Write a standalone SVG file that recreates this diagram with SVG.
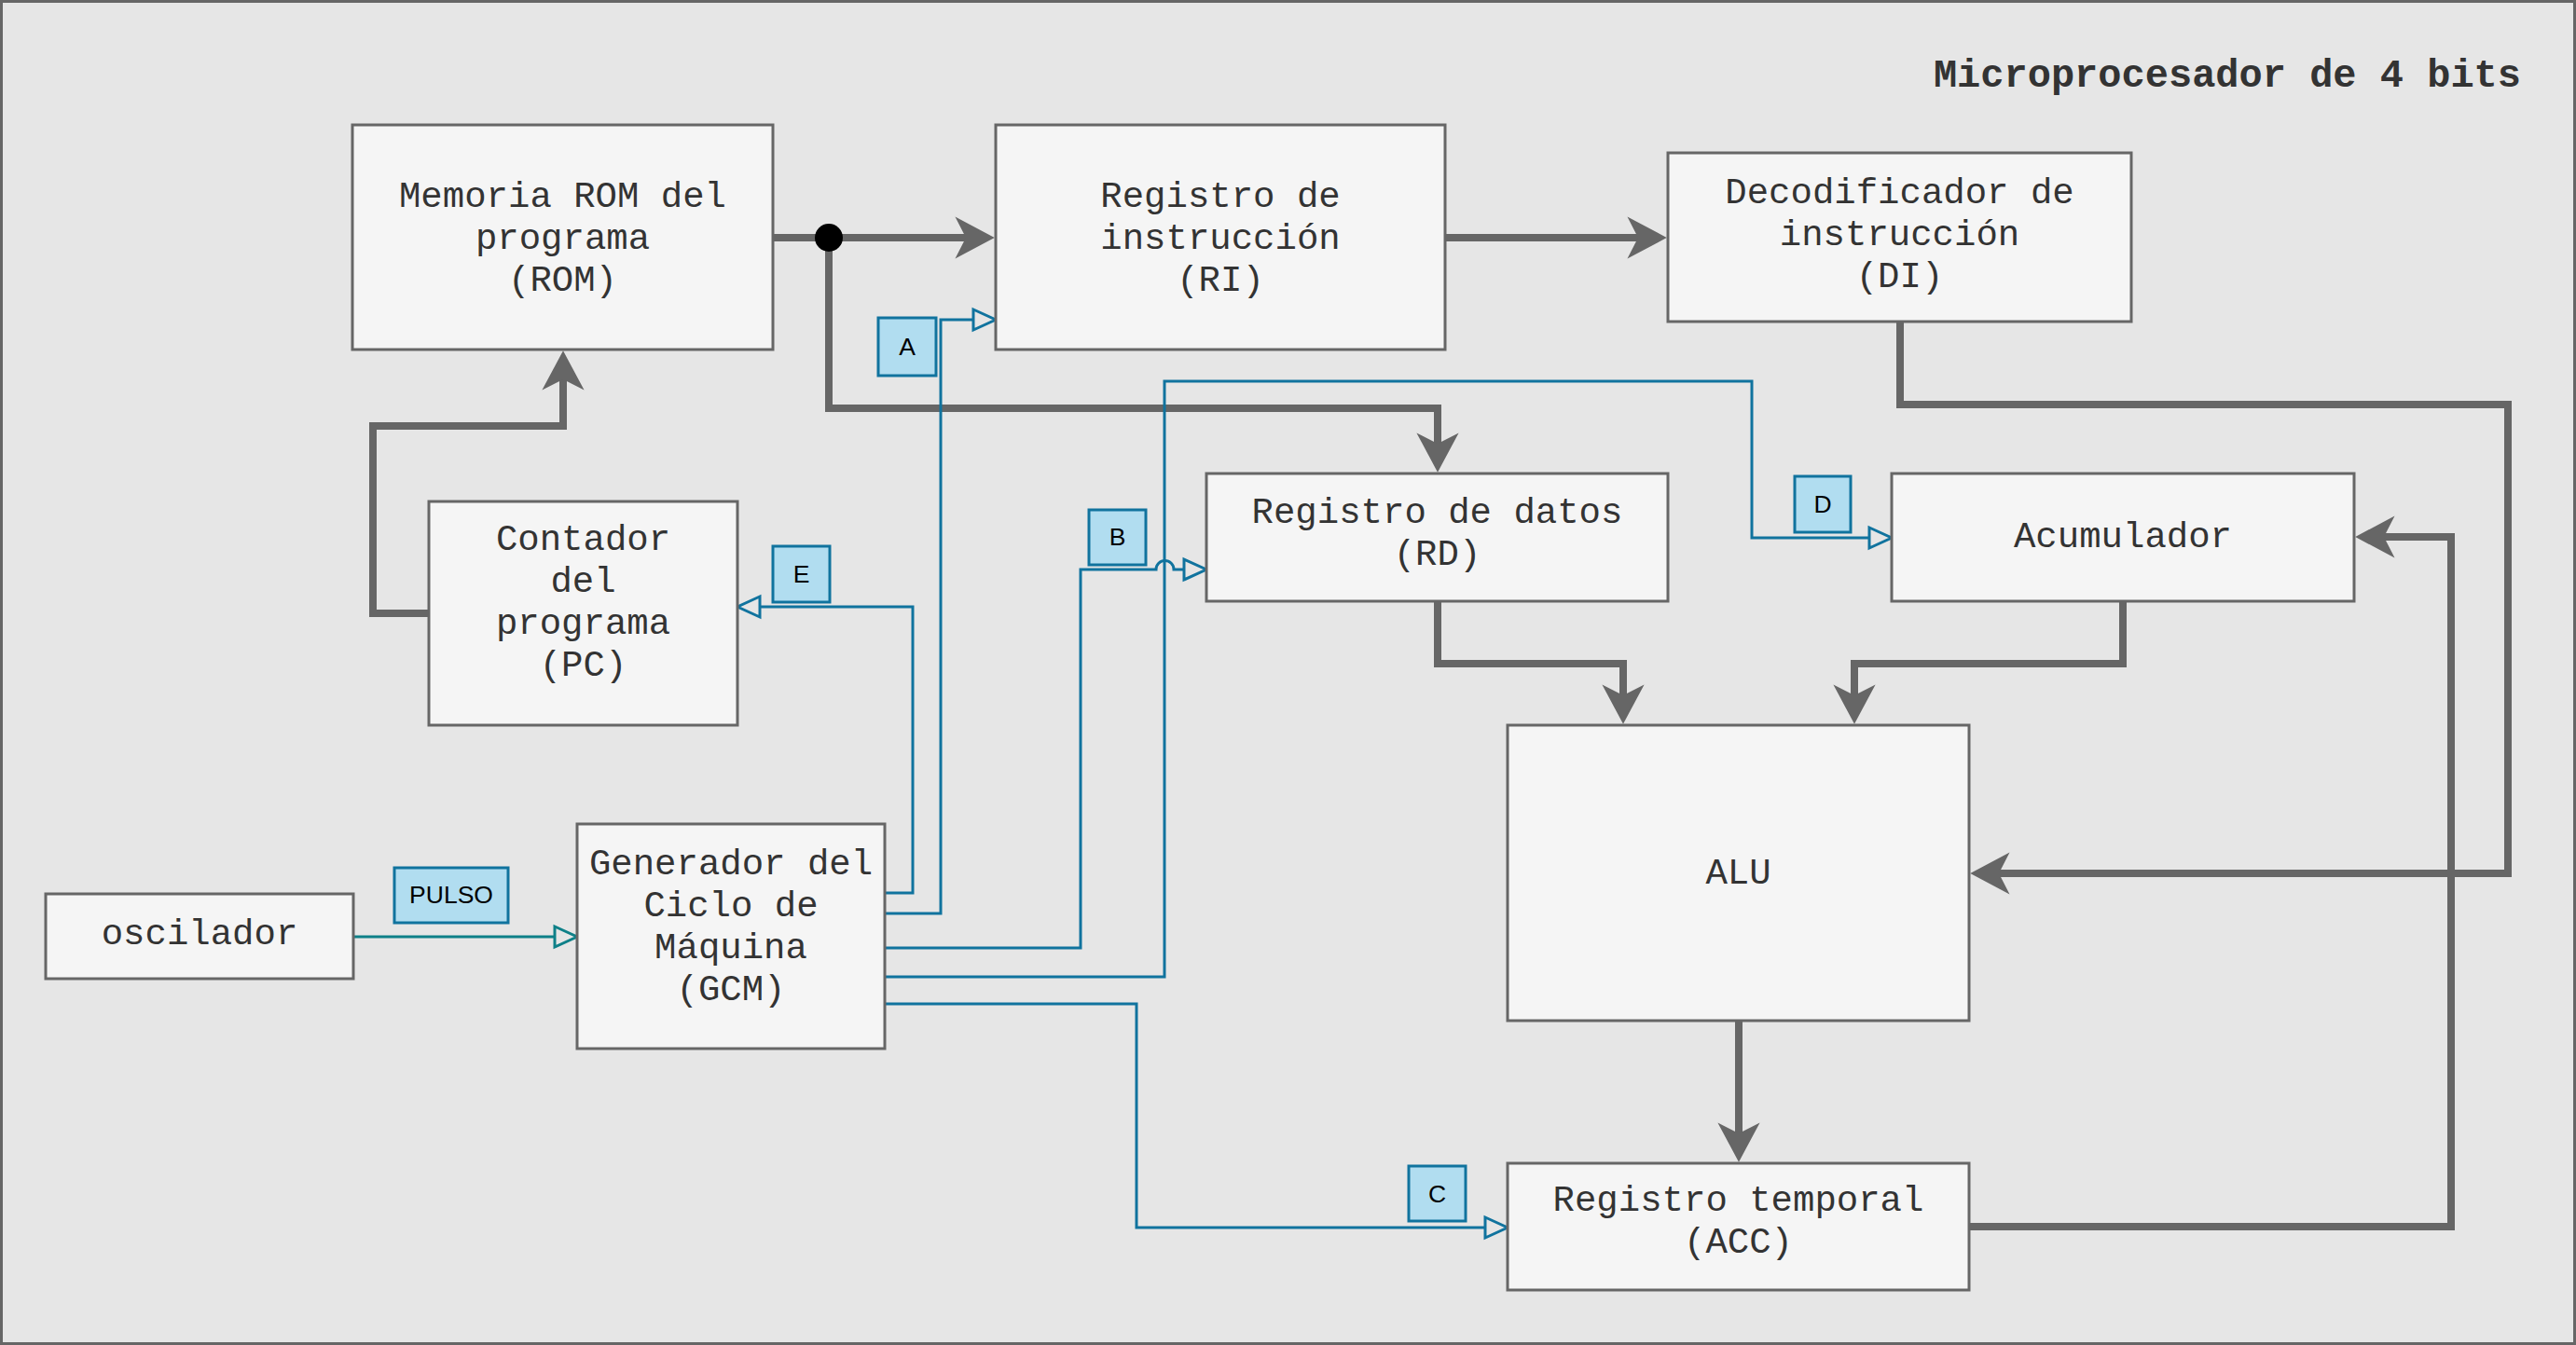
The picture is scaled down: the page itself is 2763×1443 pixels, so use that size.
<svg xmlns="http://www.w3.org/2000/svg" width="2763" height="1443" viewBox="0 0 2763 1443">
<style>
.node{fill:#F5F5F5;stroke:#666666;stroke-width:3}
.lab{fill:#B1DDF0;stroke:#10739E;stroke-width:3}
.t{font-family:"Liberation Mono","Courier New",monospace;font-size:39px;fill:#333333;text-anchor:middle}
.lt{font-family:"Liberation Sans",Arial,sans-serif;font-size:26.5px;fill:#000000;text-anchor:middle}
.bus{fill:none;stroke:#666666;stroke-width:8;marker-end:url(#big)}
.sig{fill:none;stroke:#10739E;stroke-width:3;marker-end:url(#open)}
.pul{fill:none;stroke:#0E8088;stroke-width:3;marker-end:url(#openT)}
</style>
<defs>
<marker id="big" markerUnits="userSpaceOnUse" orient="auto" refX="12" refY="0" markerWidth="50" markerHeight="50" viewBox="-2 -26 50 52" overflow="visible">
<path d="M0,-23.5 L44,0 L0,23.5 L12,0 Z" fill="#666666"/>
</marker>
<marker id="open" markerUnits="userSpaceOnUse" orient="auto" refX="0" refY="0" markerWidth="30" markerHeight="30" viewBox="-3 -14 30 28" overflow="visible">
<path d="M0,-11 L24,0 L0,11 Z" fill="#E6E6E6" stroke="#10739E" stroke-width="3"/>
</marker>
<marker id="openT" markerUnits="userSpaceOnUse" orient="auto" refX="0" refY="0" markerWidth="30" markerHeight="30" viewBox="-3 -14 30 28" overflow="visible">
<path d="M0,-11 L24,0 L0,11 Z" fill="#E6E6E6" stroke="#0E8088" stroke-width="3"/>
</marker>
</defs>
<rect x="1.5" y="1.5" width="2760" height="1440" fill="#E6E6E6" stroke="#666666" stroke-width="3"/>
<g id="title">
<text x="2704" y="93" font-family="'Liberation Mono','Courier New',monospace" font-size="42" font-weight="bold" fill="#333333" text-anchor="end">Microprocesador de 4 bits</text>
</g>
<g id="connectors">
<path class="bus" d="M829,255 H1036"/>
<path class="bus" d="M889,255 V438 H1542 V476"/>
<path class="bus" d="M1550,255 H1757"/>
<path class="bus" d="M2038,345 V434 H2690 V937 H2144"/>
<path class="bus" d="M1542,645 V712 H1741 V746"/>
<path class="bus" d="M2277,645 V712 H1989 V746"/>
<path class="bus" d="M1865,1095 V1216"/>
<path class="bus" d="M2112,1316 H2629 V576 H2557"/>
<path class="bus" d="M460,658 H400 V457 H604 V407"/>
<circle cx="889" cy="255" r="15" fill="#000000"/>
<path class="pul" d="M379,1005 H595"/>
<path class="sig" d="M949,958 H979 V651 H815"/>
<path class="sig" d="M949,980 H1009 V343 H1044"/>
<path class="sig" d="M949,1017 H1159 V611 H1240 a9.5,9.5 0 0 1 19,0 H1270"/>
<path class="sig" d="M949,1048 H1249 V409 H1879 V577 H2005"/>
<path class="sig" d="M949,1077 H1219 V1317 H1593"/>
</g>
<g id="rom"><rect class="node" x="378" y="134" width="451" height="241"/>
<text class="t" x="603.5" y="222">Memoria ROM del</text><text class="t" x="603.5" y="267">programa</text><text class="t" x="603.5" y="312">(ROM)</text></g>
<g id="ri"><rect class="node" x="1068" y="134" width="482" height="241"/>
<text class="t" x="1309" y="222">Registro de</text><text class="t" x="1309" y="267">instrucción</text><text class="t" x="1309" y="312">(RI)</text></g>
<g id="di"><rect class="node" x="1789" y="164" width="497" height="181"/>
<text class="t" x="2037.5" y="218">Decodificador de</text><text class="t" x="2037.5" y="263">instrucción</text><text class="t" x="2037.5" y="308">(DI)</text></g>
<g id="pc"><rect class="node" x="460" y="538" width="331" height="240"/>
<text class="t" x="625.5" y="590">Contador</text><text class="t" x="625.5" y="635">del</text><text class="t" x="625.5" y="680">programa</text><text class="t" x="625.5" y="725">(PC)</text></g>
<g id="gcm"><rect class="node" x="619" y="884" width="330" height="241"/>
<text class="t" x="784" y="938">Generador del</text><text class="t" x="784" y="983">Ciclo de</text><text class="t" x="784" y="1028">Máquina</text><text class="t" x="784" y="1073">(GCM)</text></g>
<g id="osc"><rect class="node" x="49" y="959" width="330" height="91"/>
<text class="t" x="214" y="1013">oscilador</text></g>
<g id="rd"><rect class="node" x="1294" y="508" width="495" height="137"/>
<text class="t" x="1541.5" y="561">Registro de datos</text><text class="t" x="1541.5" y="606">(RD)</text></g>
<g id="acu"><rect class="node" x="2029" y="508" width="496" height="137"/>
<text class="t" x="2277" y="587">Acumulador</text></g>
<g id="alu"><rect class="node" x="1617" y="778" width="495" height="317"/>
<text class="t" x="1864.5" y="948">ALU</text></g>
<g id="acc"><rect class="node" x="1617" y="1248" width="495" height="136"/>
<text class="t" x="1864.5" y="1299">Registro temporal</text><text class="t" x="1864.5" y="1344">(ACC)</text></g>
<g id="pulso"><rect class="lab" x="423" y="931" width="122" height="59"/><text class="lt" x="484" y="969">PULSO</text></g>
<g id="la"><rect class="lab" x="942" y="341" width="62" height="62"/><text class="lt" x="973" y="381">A</text></g>
<g id="le"><rect class="lab" x="829" y="586" width="61" height="60"/><text class="lt" x="859.5" y="625">E</text></g>
<g id="lb"><rect class="lab" x="1168" y="547" width="61" height="59"/><text class="lt" x="1198.5" y="585">B</text></g>
<g id="ld"><rect class="lab" x="1925" y="511" width="60" height="60"/><text class="lt" x="1955" y="550">D</text></g>
<g id="lc"><rect class="lab" x="1511" y="1251" width="61" height="59"/><text class="lt" x="1541.5" y="1290">C</text></g>
</svg>
